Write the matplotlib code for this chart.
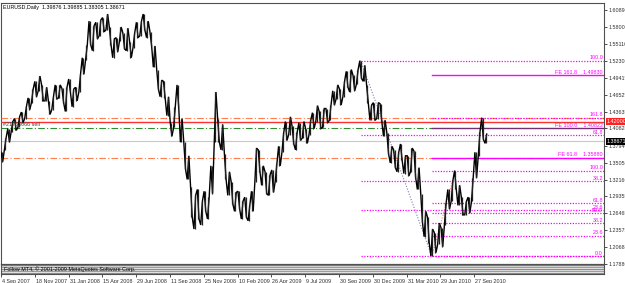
import matplotlib
matplotlib.use('Agg')
import matplotlib.pyplot as plt
import matplotlib.transforms as mtransforms
import numpy as np

W, H = 625, 283

# ---------------- data ----------------
symbol_title = "EURUSD,Daily"
ohlc_title = [1.39876, 1.39885, 1.38305, 1.38671]

date_labels = ["4 Sep 2007", "18 Nov 2007", "31 Jan 2008", "15 Apr 2008", "29 Jun 2008",
               "11 Sep 2008", "25 Nov 2008", "10 Feb 2009", "26 Apr 2009", "9 Jul 2009",
               "30 Sep 2009", "30 Dec 2009", "31 Mar 2010", "29 Jun 2010", "27 Sep 2010"]
samples_per_label = 10

price_ticks = [1.60890, 1.58000, 1.55110, 1.52305, 1.49415, 1.46525, 1.43635, 1.40820,
               1.37940, 1.35050, 1.32160, 1.29355, 1.26465, 1.23575, 1.20685, 1.17880]

highs = [1.368, 1.392, 1.408, 1.420, 1.425, 1.428, 1.436, 1.445, 1.460, 1.475,
         1.488, 1.497, 1.482, 1.478, 1.455, 1.462, 1.482, 1.482, 1.476, 1.478,
         1.492, 1.475, 1.478, 1.500, 1.528, 1.550, 1.590, 1.582, 1.588, 1.592,
         1.596, 1.602, 1.580, 1.560, 1.562, 1.580, 1.570, 1.578, 1.555, 1.570,
         1.588, 1.590, 1.602, 1.590, 1.572, 1.548, 1.508, 1.490, 1.488, 1.462,
         1.418, 1.445, 1.482, 1.425, 1.385, 1.362, 1.310, 1.295, 1.305, 1.285,
         1.302, 1.292, 1.345, 1.470, 1.425, 1.415, 1.365, 1.335, 1.318, 1.300,
         1.302, 1.285, 1.292, 1.278, 1.302, 1.375, 1.372, 1.345, 1.335, 1.330,
         1.338, 1.348, 1.378, 1.400, 1.420, 1.428, 1.412, 1.402, 1.418, 1.420,
         1.408, 1.422, 1.435, 1.447, 1.437, 1.442, 1.442, 1.448, 1.472, 1.482,
         1.475, 1.488, 1.505, 1.508, 1.498, 1.508, 1.523, 1.515, 1.482, 1.448,
         1.452, 1.452, 1.450, 1.422, 1.400, 1.378, 1.372, 1.368, 1.382, 1.362,
         1.362, 1.375, 1.370, 1.342, 1.298, 1.268, 1.258, 1.238, 1.232, 1.248,
         1.240, 1.282, 1.305, 1.320, 1.337, 1.312, 1.292, 1.285, 1.292, 1.325,
         1.368, 1.402, 1.4265, 1.39885]
lows = [1.352, 1.372, 1.385, 1.402, 1.405, 1.410, 1.418, 1.425, 1.440, 1.452,
        1.462, 1.472, 1.455, 1.455, 1.432, 1.440, 1.458, 1.460, 1.452, 1.437,
        1.470, 1.445, 1.455, 1.470, 1.500, 1.525, 1.550, 1.540, 1.560, 1.565,
        1.572, 1.575, 1.550, 1.528, 1.538, 1.556, 1.543, 1.540, 1.528, 1.545,
        1.562, 1.565, 1.575, 1.562, 1.548, 1.512, 1.475, 1.462, 1.460, 1.430,
        1.395, 1.410, 1.445, 1.385, 1.340, 1.322, 1.258, 1.238, 1.255, 1.245,
        1.268, 1.255, 1.298, 1.385, 1.385, 1.372, 1.322, 1.295, 1.280, 1.268,
        1.272, 1.255, 1.258, 1.252, 1.268, 1.318, 1.335, 1.312, 1.298, 1.295,
        1.300, 1.318, 1.345, 1.368, 1.388, 1.398, 1.382, 1.372, 1.388, 1.392,
        1.383, 1.398, 1.408, 1.420, 1.408, 1.410, 1.418, 1.422, 1.448, 1.458,
        1.448, 1.462, 1.478, 1.470, 1.472, 1.483, 1.493, 1.488, 1.452, 1.422,
        1.422, 1.425, 1.420, 1.395, 1.365, 1.350, 1.342, 1.335, 1.355, 1.332,
        1.328, 1.335, 1.325, 1.305, 1.250, 1.225, 1.215, 1.1923, 1.198, 1.212,
        1.208, 1.245, 1.272, 1.285, 1.305, 1.278, 1.262, 1.262, 1.265, 1.285,
        1.325, 1.362, 1.390, 1.38305]

fib_a_levels = [0.0, 23.6, 38.2, 61.8, 100.0]
fib_b_levels = [0.0, 23.6, 38.2, 50.0, 61.8, 100.0, 161.8]
fe_levels = [61.8, 100.0, 161.8]
fe_prices = [1.35880, 1.40822, 1.49830]
order_price = 1.42000
order_text = "#21783066 sell"
upper_dashdot_price = 1.4265
green_dashdot_price = 1.4082
last_price = 1.38671
copyright_text = "Follow MT4, \u00a9 2001-2009 MetaQuotes Software Corp."

# ---------------- layout helpers ----------------
PX = 0.00168          # price per pixel
P_REF, Y_REF = 1.6089, 10.0
X0, DX = 0.15, 33.85  # pixel of first label tick, pixels per label


def rect(x0, y0, x1, y1):
    return [x0 / W, 1 - y1 / H, (x1 - x0) / W, (y1 - y0) / H]


def u_of_px(px):
    return (px - X0) / DX


def price_of_py(py):
    return P_REF - (py - Y_REF) * PX


FONT = ['Liberation Sans', 'DejaVu Sans']
FS = 3.9
MAG = '#FF00FF'

fig = plt.figure(figsize=(W / 100, H / 100), dpi=100)
fig.patch.set_facecolor('white')

ax = fig.add_axes(rect(1, 3, 604, 264))
ax.set_xlim(u_of_px(1), u_of_px(604))
ax.set_ylim(price_of_py(264), price_of_py(3))
ax.set_facecolor('white')
for s in ax.spines.values():
    s.set_color('#505050')
    s.set_linewidth(0.8)

highs_a = np.array(highs)
lows_a = np.array(lows)
n = len(highs_a)
u = (np.arange(n) + 0.5) / samples_per_label

# price bars drawn as a jagged high/low trace
half = 0.25 / samples_per_label
zx, zy = [], []
for k in range(n):
    a, b = (highs_a[k], lows_a[k]) if k % 2 == 0 else (lows_a[k], highs_a[k])
    zx += [u[k] - half, u[k] + half]
    zy += [a, b]
ax.plot(zx, zy, color='black', lw=1.0, zorder=5, solid_joinstyle='miter')
ax.vlines(u, lows_a, highs_a, color='#202020', lw=0.9, zorder=5)

# anchors of the fibonacci objects taken from the data
i_low = int(np.argmin(lows_a))
i_hiA = int(np.argmax(highs_a[90:i_low])) + 90
i_hiB = int(np.argmax(highs_a[i_low:i_low + 10])) + i_low
p_low = lows_a[i_low]
p_hiA = highs_a[i_hiA]
p_hiB = highs_a[i_hiB]
xr = u_of_px(604)

# horizontal full-width lines
ax.axhline(upper_dashdot_price, color='#FF7F50', lw=0.8, ls=(0, (6, 2, 1, 2)), zorder=3)
ax.axhline(order_price, color='#FF3030', lw=1.0, zorder=3)
ax.axhline(last_price, color='#C8C8C8', lw=0.8, zorder=2)
ax.axhline(fe_prices[0], color='#FF7F50', lw=0.8, ls=(0, (6, 2, 1, 2)), zorder=3)
ax.plot([u_of_px(1), u[i_low]], [green_dashdot_price] * 2, color='#2E8B2E', lw=0.8,
        ls=(0, (6, 2, 1, 2)), zorder=3)
ax.text(u_of_px(3), order_price - 0.0012, order_text, fontsize=FS, family=FONT,
        color='#404040', va='top', ha='left', zorder=6)

# fibonacci A (from the Nov 2009 high down to the Jun 2010 low)
for lv in fib_a_levels:
    p = p_low + (p_hiA - p_low) * lv / 100.0
    ax.plot([u[i_hiA], xr], [p, p], color=MAG, lw=0.9, ls=(0, (1, 1.2)), zorder=4)
    ax.text(xr - 0.03, p + 0.0006, f"{lv:.1f}", fontsize=FS, family=FONT, color=MAG,
            ha='right', va='bottom', zorder=6)
ax.plot([u[i_hiA], u[i_low]], [p_hiA, p_low], color='#8080B0', lw=0.8, ls=(0, (1, 1.5)), zorder=4)

# fibonacci B (from the Jun 2010 low to the Aug 2010 high)
for lv in fib_b_levels:
    p = p_low + (p_hiB - p_low) * lv / 100.0
    ax.plot([u[i_low], xr], [p, p], color=MAG, lw=0.9, ls=(0, (1, 1.2)), zorder=4)
    if lv != 0.0:
        ax.text(xr - 0.03, p + 0.0006, f"{lv:.1f}", fontsize=FS, family=FONT, color=MAG,
                ha='right', va='bottom', zorder=6)
ax.plot([u[i_low], u[i_hiB]], [p_low, p_hiB], color='#FF8080', lw=0.8, ls=(0, (1, 1.5)), zorder=4)

# fibonacci expansion lines
for lv, p in zip(fe_levels, fe_prices):
    col = '#703070' if lv == 100.0 else MAG
    ax.plot([u[i_low], xr], [p, p], color=col, lw=1.0, zorder=4)
    ax.text(xr - 0.03, p + 0.0006, f"FE {lv:.1f}    {p:.5f}", fontsize=FS, family=FONT,
            color=MAG, ha='right', va='bottom', zorder=6)

# title
ax.text(u_of_px(3), price_of_py(8), f"{symbol_title}  " + " ".join(f"{v:.5f}" for v in ohlc_title),
        fontsize=FS, family=FONT, color='black', ha='left', va='center', zorder=6)

# right price axis
ax.yaxis.tick_right()
ax.set_yticks(price_ticks)
ax.set_yticklabels([f"{p:.5f}" for p in price_ticks], fontsize=FS, family=FONT)
ax.tick_params(axis='y', length=2, width=0.6, pad=1.5, colors='#303030')
ax.set_xticks([])

blend = mtransforms.blended_transform_factory(ax.transAxes, ax.transData)
ax.text(1.004, order_price, f"{order_price:.5f}", transform=blend, fontsize=FS, family=FONT,
        color='white', va='center', ha='left', zorder=7, clip_on=False,
        bbox=dict(facecolor='#FF2020', edgecolor='none', pad=0.6))
ax.text(1.004, last_price, f"{last_price:.5f}", transform=blend, fontsize=FS, family=FONT,
        color='white', va='center', ha='left', zorder=7, clip_on=False,
        bbox=dict(facecolor='black', edgecolor='none', pad=0.6))

# indicator sub window (empty, striped) and date axis
sub = fig.add_axes(rect(1, 264, 604, 274))
sub.set_xlim(ax.get_xlim())
sub.set_ylim(0, 10)
sub.set_facecolor('#E4E4E4')
for k, c in zip(range(10), ['#7A7A7A', '#D0D0D0', '#9A9A9A', '#E0E0E0', '#8A8A8A',
                            '#D8D8D8', '#9A9A9A', '#E0E0E0', '#8A8A8A', '#C0C0C0']):
    sub.axhline(9.5 - k, color=c, lw=0.7)
for s in sub.spines.values():
    s.set_color('#505050')
    s.set_linewidth(0.8)
sub.set_yticks([])
sub.set_xticks(range(len(date_labels)))
sub.set_xticklabels(date_labels, fontsize=FS, family=FONT, ha='left')
sub.tick_params(axis='x', length=2, width=0.6, pad=1.5, colors='#303030')
for lab in sub.get_xticklabels():
    lab.set_transform(lab.get_transform() + mtransforms.ScaledTranslation(1 / 100, 0, fig.dpi_scale_trans))
sub.text(u_of_px(3), 5, copyright_text, fontsize=FS, family=FONT, color='black',
         ha='left', va='center')

fig.savefig('out.png', dpi=100, facecolor='white')
